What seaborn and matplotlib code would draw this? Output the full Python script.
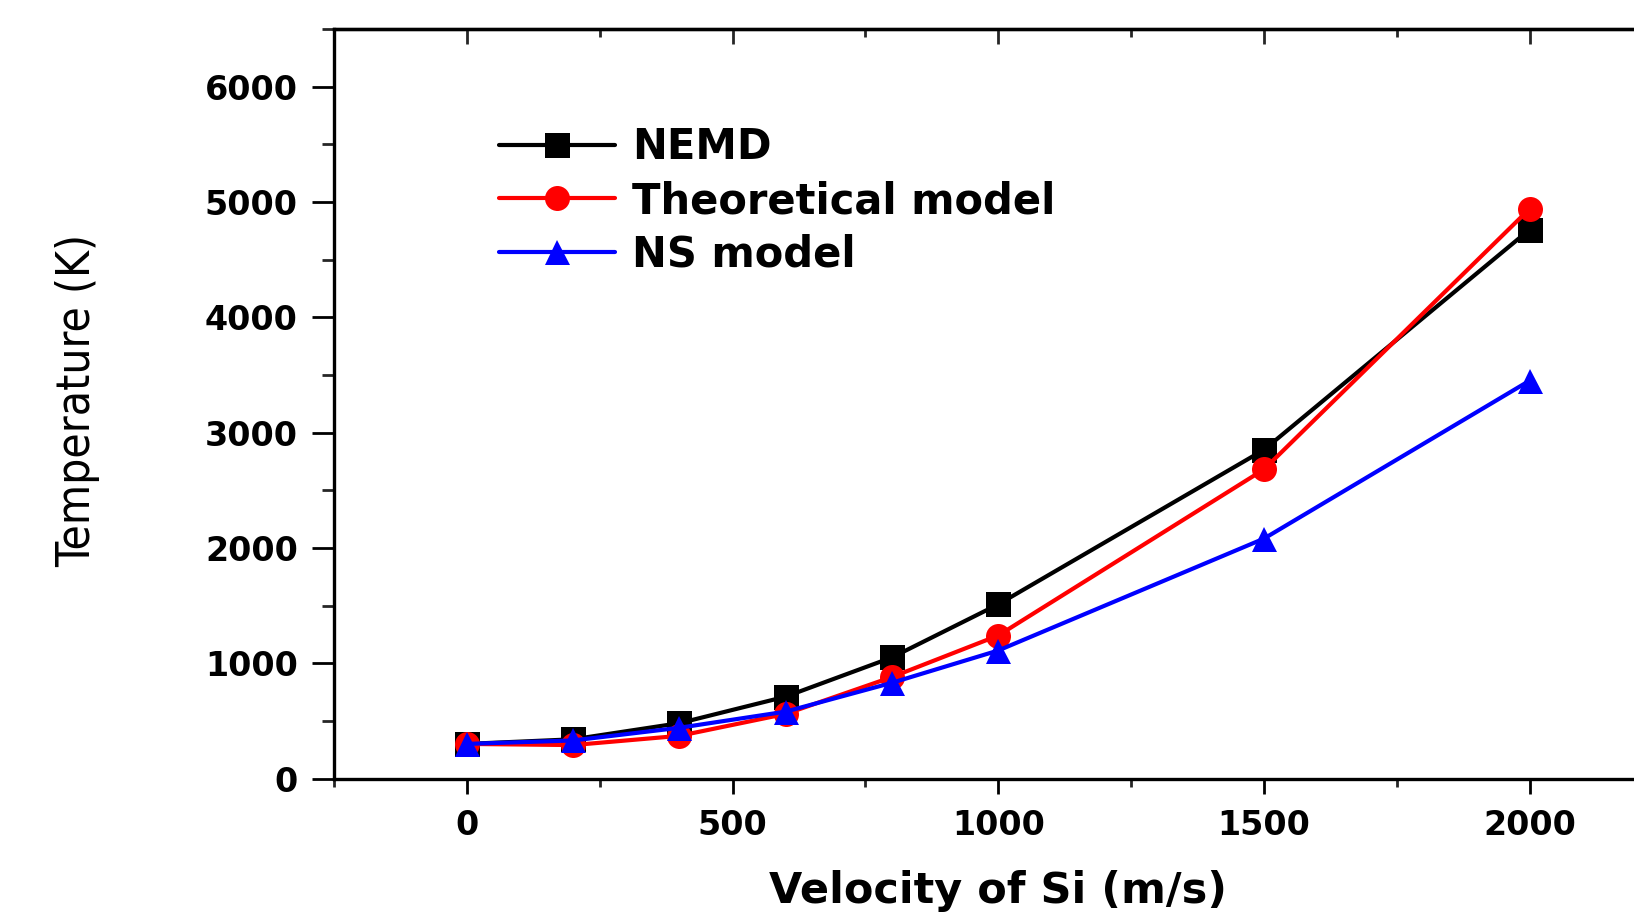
import numpy as np
import pandas as pd
import seaborn as sns
import matplotlib.pyplot as plt
from matplotlib.ticker import MultipleLocator

# values
velocity = [0, 200, 400, 600, 800, 1000, 1500, 2000]
nemd = [300, 340, 480, 710, 1050, 1510, 2850, 4760]
theoretical = [300, 290, 370, 560, 880, 1240, 2680, 4940]
ns_model = [300, 330, 440, 580, 830, 1110, 2080, 3450]
series_names = ['NEMD', 'Theoretical model', 'NS model']

df = pd.DataFrame({
    'v': velocity * 3,
    'T': nemd + theoretical + ns_model,
    'model': np.repeat(series_names, len(velocity)),
})

sns.set_theme(style='ticks')
plt.rcParams['font.family'] = ['DejaVu Sans']
plt.rcParams['text.color'] = 'black'
plt.rcParams['axes.labelcolor'] = 'black'

fig = plt.figure(figsize=(16.34, 9.13), dpi=100)
ax = fig.add_axes([0.2044, 0.1473, 0.813, 0.821])

sns.lineplot(
    data=df, x='v', y='T', hue='model', style='model',
    hue_order=series_names, style_order=series_names,
    palette={'NEMD': '#000000', 'Theoretical model': '#ff0000', 'NS model': '#0000ff'},
    markers={'NEMD': 's', 'Theoretical model': 'o', 'NS model': '^'},
    dashes=False, linewidth=3.0, markersize=18, markeredgewidth=0,
    ax=ax,
)

ax.set_xlim(-250, 2250)
ax.set_ylim(0, 6500)
ax.xaxis.set_major_locator(MultipleLocator(500))
ax.xaxis.set_minor_locator(MultipleLocator(250))
ax.yaxis.set_major_locator(MultipleLocator(1000))
ax.yaxis.set_minor_locator(MultipleLocator(500))

for s in ax.spines.values():
    s.set_linewidth(2.4)
    s.set_color('black')

ax.tick_params(axis='x', which='major', direction='out', length=11, width=2, pad=11,
               labelsize=24, colors='black')
ax.tick_params(axis='x', which='minor', direction='out', length=6, width=2)
ax.tick_params(axis='y', which='major', direction='out', length=16, width=2, pad=10,
               labelsize=24, colors='black')
ax.tick_params(axis='y', which='minor', direction='out', length=9, width=2)
for lab in ax.get_xticklabels() + ax.get_yticklabels():
    lab.set_fontweight('bold')

# inward ticks on the top frame
top = ax.secondary_xaxis('top')
top.xaxis.set_major_locator(MultipleLocator(500))
top.xaxis.set_minor_locator(MultipleLocator(250))
top.tick_params(which='major', direction='in', length=11, width=2, labeltop=False)
top.tick_params(which='minor', direction='in', length=6, width=2)
top.spines['top'].set_linewidth(2.4)

ax.set_xlabel('Velocity of Si (m/s)', fontsize=31, fontweight='bold', va='center')
ax.xaxis.set_label_coords(0.5, -0.150)
ax.set_ylabel('Temperature (K)', fontsize=33, va='center', fontweight='medium',
              family=['Liberation Sans Narrow', 'DejaVu Sans'], fontstretch='condensed')
ax.yaxis.set_label_coords(-0.193, 0.504)

leg = ax.legend(loc='upper left', bbox_to_anchor=(0.124, 0.87), frameon=False,
                prop={'size': 30, 'weight': 'bold'}, handlelength=2.8,
                handletextpad=0.4, labelspacing=0.28, borderpad=0, borderaxespad=0)
for h in leg.legend_handles:
    h.set_linewidth(3.0)
    h.set_markersize(18)

fig.savefig('out.png', dpi=100)
